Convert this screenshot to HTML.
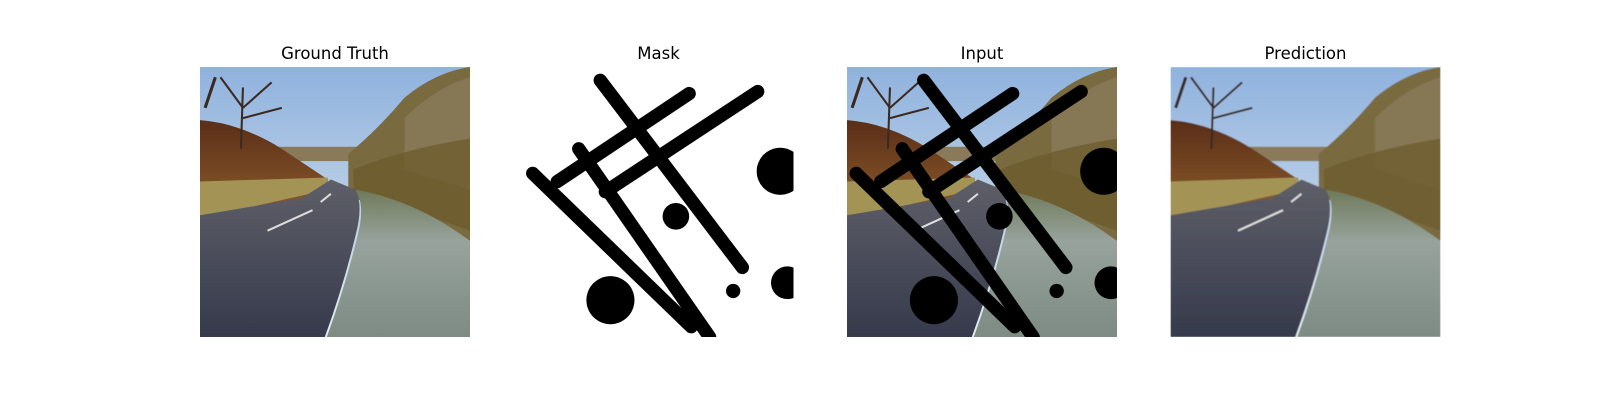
<!DOCTYPE html>
<html><head><meta charset="utf-8"><style>
body{margin:0;background:#fff;width:1600px;height:400px;overflow:hidden}
svg{display:block}
text{font-family:"DejaVu Sans","Liberation Sans",sans-serif;font-size:16.5px;fill:#000}
</style></head><body>
<svg width="1600" height="400" viewBox="0 0 1600 400">
<defs>
<linearGradient id="sky" x1="0" y1="0" x2="0" y2="1">
<stop offset="0" stop-color="#8fb2de"/><stop offset="1" stop-color="#e4ebef"/></linearGradient>
<linearGradient id="road" x1="0" y1="0" x2="0" y2="1">
<stop offset="0" stop-color="#5e5f68"/><stop offset="1" stop-color="#363a4c"/></linearGradient>
<linearGradient id="grass" x1="0" y1="0" x2="0" y2="1">
<stop offset="0" stop-color="#6f7a5a"/><stop offset="0.35" stop-color="#97a39c"/><stop offset="1" stop-color="#7d8b84"/></linearGradient>
<linearGradient id="hill" x1="0" y1="0" x2="0" y2="1">
<stop offset="0" stop-color="#5a2e18"/><stop offset="1" stop-color="#8a5a2a"/></linearGradient>
<symbol id="photo" viewBox="0 0 264 264">
<rect width="264" height="264" fill="url(#sky)"/>
<rect y="78" width="264" height="14" fill="#8a7a5a"/>
<path d="M0 52 Q40 55 80 80 Q110 100 125 110 L125 130 L0 140 Z" fill="url(#hill)"/>
<path d="M0 112 L125 108 L125 120 L0 148 Z" fill="#a39456"/>
<path d="M145 85 Q175 60 200 30 Q230 5 264 0 L264 180 L145 125 Z" fill="#7a6a40"/>
<path d="M200 50 Q230 20 264 10 L264 120 L200 100 Z" fill="#8a7a5a" opacity="0.8"/>
<path d="M150 100 Q200 80 264 70 L264 160 L150 120 Z" fill="#6b5a2a" opacity="0.7"/>
<path d="M0 145 L100 128 L128 110 L152 120 Q160 135 152 165 Q140 215 122 264 L0 264 Z" fill="url(#road)"/>
<path d="M152 120 Q162 135 154 165 Q142 215 124 264 L264 264 L264 170 Q210 130 152 120 Z" fill="url(#grass)"/>
<path d="M66 160 L110 140 M118 132 L128 124" stroke="#ddd" stroke-width="2"/>
<path d="M40 80 L42 20 M42 40 L20 10 M42 40 L70 15 M42 50 L80 40" stroke="#3a2a20" stroke-width="2" fill="none"/>
<path d="M5 40 L15 10" stroke="#3a2a20" stroke-width="3"/>
</symbol>
<symbol id="mask" viewBox="0 0 264 264">
<g stroke="#000" stroke-width="13" stroke-linecap="round" fill="none">
<line x1="75" y1="13" x2="214" y2="196"/>
<line x1="162" y1="26" x2="33" y2="112"/>
<line x1="229" y1="24" x2="80" y2="122"/>
<line x1="54" y1="80" x2="182" y2="264"/>
<line x1="9" y1="104" x2="164" y2="254"/>
</g>
<g fill="#000">
<circle cx="251" cy="102" r="23"/>
<circle cx="149" cy="146" r="13"/>
<circle cx="85" cy="228" r="23.5"/>
<circle cx="205" cy="219" r="7"/>
<circle cx="258" cy="211" r="16"/>
</g>
</symbol>
<clipPath id="c1"><rect width="270" height="270"/></clipPath>
<filter id="soft"><feGaussianBlur stdDeviation="0.6"/></filter>
</defs>
<text x="335" y="59" text-anchor="middle">Ground Truth</text>
<text x="658.5" y="59" text-anchor="middle">Mask</text>
<text x="982" y="59" text-anchor="middle">Input</text>
<text x="1305.5" y="59" text-anchor="middle">Prediction</text>
<g transform="translate(200,67)" clip-path="url(#c1)">
<use href="#photo" width="270" height="270"/></g>
<g transform="translate(523.5,67)" clip-path="url(#c1)">
<rect width="270" height="270" fill="#fff"/><use href="#mask" width="270" height="270"/></g>
<g transform="translate(847,67)" clip-path="url(#c1)">
<use href="#photo" width="270" height="270"/><use href="#mask" width="270" height="270"/></g>
<g transform="translate(1170.5,67)" clip-path="url(#c1)">
<use href="#photo" width="270" height="270" filter="url(#soft)"/></g>
</svg>
</body></html>
